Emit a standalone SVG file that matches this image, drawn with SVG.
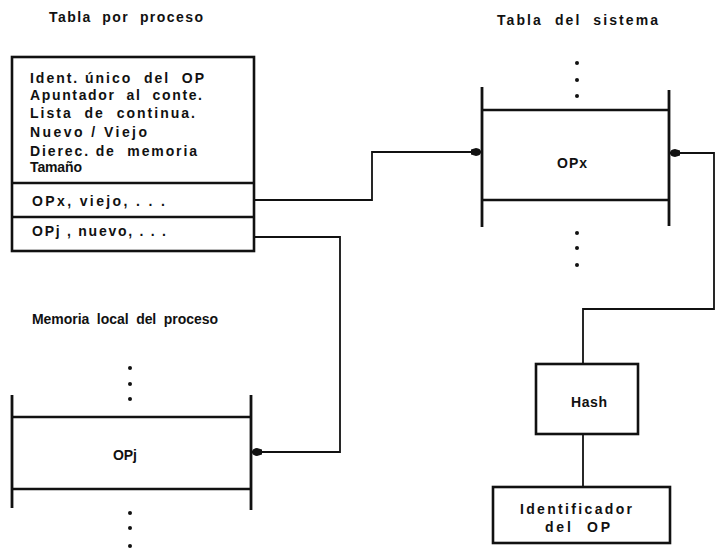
<svg xmlns="http://www.w3.org/2000/svg" width="718" height="560" viewBox="0 0 718 560">
<defs>
<style>
text{font-family:"Liberation Sans",Arial,sans-serif;font-weight:bold;font-size:14px;fill:#111;white-space:pre;}
.box{fill:none;stroke:#111;stroke-width:2.6;}
.bar{stroke:#111;stroke-width:2.8;fill:none;}
.hl{stroke:#111;stroke-width:2.6;}
.conn{fill:none;stroke:#111;stroke-width:1.8;}
.dot{fill:#111;}
</style>
<marker id="ah" viewBox="0 0 10 8" refX="10" refY="4" markerWidth="10" markerHeight="8" orient="auto" markerUnits="userSpaceOnUse">
<path d="M0,1.5 L5,0 Q10,0.5 10,4 Q10,7.5 5,8 L0,6.5 Z" fill="#111"/>
</marker>
</defs>
<rect width="718" height="560" fill="#fff"/>

<g id="titles">
<text x="49" y="22" textLength="154" lengthAdjust="spacing" xml:space="preserve">Tabla  por  proceso</text>
<text x="497" y="25" textLength="161" lengthAdjust="spacing" xml:space="preserve">Tabla  del  sistema</text>
<text x="32" y="324" textLength="186" lengthAdjust="spacing" xml:space="preserve">Memoria  local  del  proceso</text>
</g>

<g id="tabla-proceso">
<rect class="box" x="12" y="57" width="242" height="194"/>
<line class="hl" x1="12" y1="183" x2="254" y2="183"/>
<line class="hl" x1="12" y1="217" x2="254" y2="217"/>
<text x="30" y="83" textLength="174" lengthAdjust="spacing" xml:space="preserve">Ident. único  del  OP</text>
<text x="30" y="100" textLength="172" lengthAdjust="spacing" xml:space="preserve">Apuntador  al  conte.</text>
<text x="30" y="118" textLength="165" lengthAdjust="spacing" xml:space="preserve">Lista  de  continua.</text>
<text x="30" y="137" textLength="117" lengthAdjust="spacing" xml:space="preserve">Nuevo / Viejo</text>
<text x="30" y="156" textLength="167" lengthAdjust="spacing" xml:space="preserve">Dierec. de  memoria</text>
<text x="30" y="172" textLength="52" lengthAdjust="spacing">Tamaño</text>
<text x="32" y="206" textLength="133" lengthAdjust="spacing" xml:space="preserve">OPx, viejo, . . .</text>
<text x="32" y="236" textLength="134" lengthAdjust="spacing" xml:space="preserve">OPj , nuevo, . . .</text>
</g>

<g id="tabla-sistema">
<circle class="dot" cx="577" cy="63" r="2"/>
<circle class="dot" cx="577" cy="80" r="2"/>
<circle class="dot" cx="577" cy="96" r="2"/>
<line class="bar" x1="482" y1="87" x2="482" y2="227"/>
<line class="bar" x1="669" y1="90" x2="669" y2="226"/>
<line class="hl" x1="482" y1="110" x2="669" y2="110"/>
<line class="hl" x1="482" y1="200" x2="669" y2="200"/>
<text x="557" y="168" textLength="30" lengthAdjust="spacing">OPx</text>
<circle class="dot" cx="577" cy="233" r="2"/>
<circle class="dot" cx="577" cy="248" r="2"/>
<circle class="dot" cx="577" cy="265" r="2"/>
</g>

<g id="memoria-local">
<circle class="dot" cx="130" cy="368" r="2"/>
<circle class="dot" cx="130" cy="384" r="2"/>
<circle class="dot" cx="130" cy="399" r="2"/>
<line class="bar" x1="12" y1="395" x2="12" y2="508"/>
<line class="bar" x1="251" y1="395" x2="251" y2="510"/>
<line class="hl" x1="12" y1="417" x2="251" y2="417"/>
<line class="hl" x1="12" y1="489" x2="251" y2="489"/>
<text x="113" y="460" textLength="24" lengthAdjust="spacing">OPj</text>
<circle class="dot" cx="130" cy="513" r="2"/>
<circle class="dot" cx="130" cy="528" r="2"/>
<circle class="dot" cx="130" cy="546" r="2"/>
</g>

<g id="hash">
<rect class="box" x="536" y="364" width="102" height="70"/>
<text x="571" y="407" textLength="36" lengthAdjust="spacing">Hash</text>
</g>

<g id="identificador">
<rect class="box" x="493" y="487" width="177" height="56"/>
<text x="520" y="514" textLength="112" lengthAdjust="spacing">Identificador</text>
<text x="545" y="532" textLength="65" lengthAdjust="spacing" xml:space="preserve">del  OP</text>
</g>

<g id="connectors">
<polyline class="conn" points="254,200 372,200 372,152 481,152" marker-end="url(#ah)"/>
<polyline class="conn" points="583,364 583,309 714,309 714,153 670,153" marker-end="url(#ah)"/>
<polyline class="conn" points="254,237 340,237 340,452 252,452" marker-end="url(#ah)"/>
<line class="conn" x1="583" y1="434" x2="583" y2="487"/>
</g>
</svg>
